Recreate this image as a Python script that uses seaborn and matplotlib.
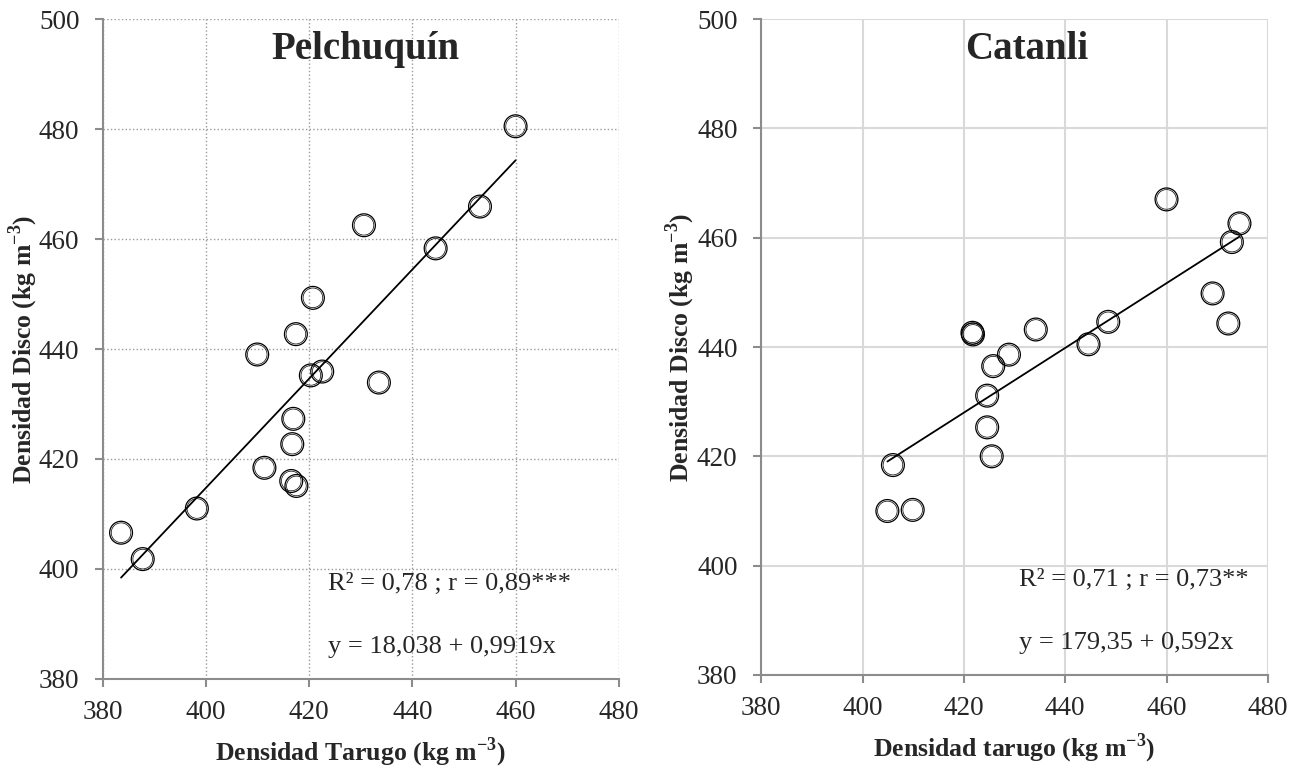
import numpy as np
import matplotlib
matplotlib.use("Agg")
import matplotlib.pyplot as plt
import seaborn as sns
import pandas as pd

######## Data
# Pelchuquín
pel_tarugo = [383.5, 387.7, 398.2, 409.9, 411.3, 416.5, 417.5, 416.7, 416.9, 417.4,
              420.7, 420.3, 422.5, 433.5, 430.6, 444.5, 453.1, 460.0]
pel_disco = [406.6, 401.8, 411.0, 439.0, 418.4, 416.0, 415.1, 422.7, 427.3, 442.7,
             449.3, 435.2, 435.9, 433.9, 462.5, 458.3, 465.9, 480.5]
pel_coef = [18.038, 0.9919]

# Catanli
cat_tarugo = [404.9, 409.9, 406.0, 425.5, 424.6, 424.6, 421.7, 421.8, 425.8, 428.9,
              434.2, 444.6, 448.5, 460.0, 469.1, 472.2, 472.9, 474.4]
cat_disco = [410.0, 410.2, 418.4, 420.0, 425.3, 431.1, 442.6, 442.3, 436.5, 438.6,
             443.2, 440.5, 444.6, 467.0, 449.8, 444.3, 459.2, 462.6]
cat_coef = [179.35, 0.592]

ticks = [380, 400, 420, 440, 460, 480]
yticks = [380, 400, 420, 440, 460, 480, 500]

######## Style
sns.set_style("white")
plt.rcParams['font.family'] = ['Liberation Serif', 'DejaVu Serif']
plt.rcParams['mathtext.fontset'] = 'custom'
plt.rcParams['mathtext.rm'] = 'Liberation Serif'
plt.rcParams['mathtext.bf'] = 'Liberation Serif:bold'

fig = plt.figure(figsize=(12.99, 7.70), dpi=100)
ax1 = fig.add_axes([0.0793, 0.1182, 0.397, 0.8571])
ax2 = fig.add_axes([0.586, 0.1234, 0.390, 0.8519])

panels = [
    (ax1, pel_tarugo, pel_disco, pel_coef, "Pelchuquín", 430.9,
     "R² = 0,78 ; r = 0,89***", "y = 18,038 + 0,9919x", 423.7,
     r"Densidad Tarugo (kg m$^{\mathbf{-3}}$)", dict(ls=":", color="#9a9a9a", lw=1.0), -0.155),
    (ax2, cat_tarugo, cat_disco, cat_coef, "Catanli", 432.5,
     "R² = 0,71 ; r = 0,73**", "y = 179,35 + 0,592x", 430.9,
     r"Densidad tarugo (kg m$^{\mathbf{-3}}$)", dict(ls="-", color="#d9d9d9", lw=1.5), -0.16),
]

for ax, xs, ys, coef, title, tx, stat, eq, ex, xlab, grid, ylx in panels:
    df = pd.DataFrame({"x": xs, "y": ys})
    # regression line from published coefficients
    xl = np.array([min(xs), max(xs)])
    fit = pd.DataFrame({"x": xl, "y": coef[0] + coef[1] * xl})
    sns.lineplot(data=fit, x="x", y="y", ax=ax, color="black", lw=1.3, zorder=3)
    # double-ring open markers
    sns.scatterplot(data=df, x="x", y="y", ax=ax, marker="o", s=270,
                    facecolor="none", edgecolor="black", linewidth=0.9, zorder=4)
    sns.scatterplot(data=df, x="x", y="y", ax=ax, marker="o", s=200,
                    facecolor="none", edgecolor="black", linewidth=0.5, zorder=4)

    ax.set_xlim(380, 480)
    ax.set_ylim(380, 500)
    ax.set_xticks(ticks)
    ax.set_yticks(yticks)
    ax.grid(True, **grid)
    ax.set_axisbelow(True)
    for s in ["top", "right"]:
        ax.spines[s].set_visible(False)
    for s in ["left", "bottom"]:
        ax.spines[s].set_color("#8c8c8c")
        ax.spines[s].set_linewidth(1.5)
    ax.tick_params(axis="both", direction="out", length=6, width=1.5,
                   color="#8c8c8c", labelsize=19.5, left=True, bottom=True)
    ax.tick_params(axis="y", pad=11)
    ax.tick_params(axis="x", pad=9)

    ax.set_xlabel(xlab, fontsize=18.5, fontweight="bold", labelpad=8)
    ax.set_ylabel(r"Densidad Disco (kg m$^{\mathbf{-3}}$)", fontsize=18.5,
                  fontweight="bold", va="center")
    ax.yaxis.set_label_coords(ylx, 0.5)

    ax.text(tx, 494.5, title, fontsize=28, fontweight="bold", ha="center", va="center")
    ax.text(ex, 397.3, stat, fontsize=19, ha="left", va="center")
    ax.text(ex, 385.9, eq, fontsize=19, ha="left", va="center")

plt.savefig("out.png", dpi=100)
